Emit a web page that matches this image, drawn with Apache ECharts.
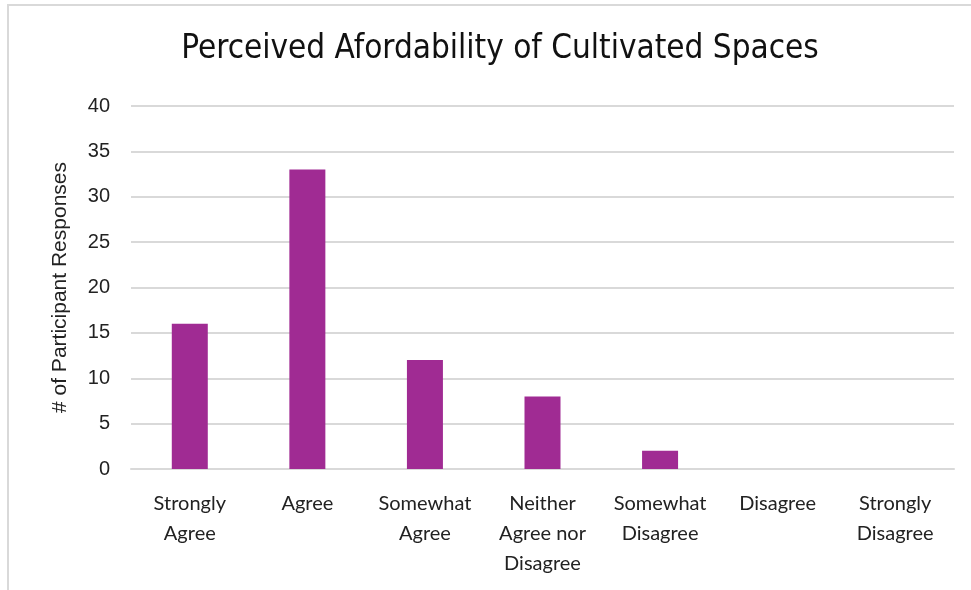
<!DOCTYPE html>
<html>
<head>
<meta charset="utf-8">
<script src="https://cdn.jsdelivr.net/npm/echarts@6/dist/echarts.min.js"></script>
<style>
  html, body { margin: 0; padding: 0; background: #fff; }
  #chart { width: 971px; height: 590px; }
</style>
</head>
<body>
<div id="chart"></div>
<script>
const categories = [
  "Strongly\nAgree",
  "Agree",
  "Somewhat\nAgree",
  "Neither\nAgree nor\nDisagree",
  "Somewhat\nDisagree",
  "Disagree",
  "Strongly\nDisagree"
];
const responses = [16, 33, 12, 8, 2, 0, 0];
const yMin = 0;
const yMax = 40;
const yStep = 5;

const chart = echarts.init(document.getElementById("chart"));
const option = {
  backgroundColor: "#ffffff",
  animation: false,
  graphic: [
    {
      type: "rect",
      shape: { x: 8, y: 5, width: 1000, height: 620 },
      style: { fill: "none", stroke: "#d9d9d9", lineWidth: 2 },
      silent: true
    }
  ],
  title: {
    text: "Perceived Afordability of Cultivated Spaces",
    left: 495,
    textAlign: "center",
    top: 28,
    textStyle: {
      fontFamily: "'DejaVu Sans Condensed', 'Liberation Sans', sans-serif",
      fontSize: 33,
      fontWeight: "normal",
      color: "#111"
    }
  },
  grid: {
    left: 131,
    right: 17,
    top: 106,
    bottom: 121,
    containLabel: false
  },
  xAxis: {
    type: "category",
    data: categories,
    axisTick: { show: false },
    axisLine: { show: true, lineStyle: { color: "#d9d9d9", width: 2 } },
    axisLabel: {
      interval: 0,
      margin: 20,
      fontSize: 20,
      lineHeight: 30,
      color: "#222",
      fontFamily: "Lato"
    }
  },
  yAxis: {
    type: "value",
    min: yMin,
    max: yMax,
    interval: yStep,
    name: "# of Participant Responses",
    nameLocation: "middle",
    nameGap: 60,
    nameTextStyle: {
      fontSize: 21,
      color: "#222",
      fontFamily: "Liberation Sans"
    },
    axisLine: { show: false },
    axisTick: { show: false },
    axisLabel: {
      fontSize: 20,
      margin: 21,
      color: "#222",
      fontFamily: "Liberation Sans"
    },
    splitLine: {
      lineStyle: { color: "#d9d9d9", width: 2 }
    }
  },
  series: [
    {
      name: "Responses",
      type: "bar",
      data: responses,
      barWidth: 36,
      itemStyle: { color: "#A02B93" }
    }
  ]
};
chart.setOption(option);
</script>
</body>
</html>
